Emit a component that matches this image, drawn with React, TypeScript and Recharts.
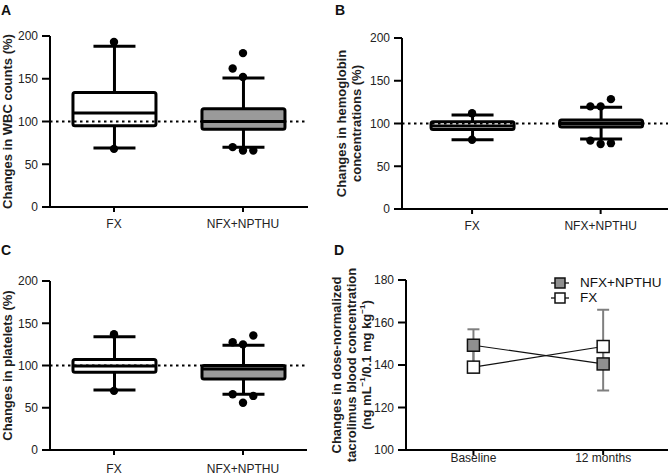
import React from "react";
import {
  ComposedChart,
  Bar,
  Cell,
  Scatter,
  Line,
  ErrorBar,
  XAxis,
  YAxis,
  ReferenceLine,
} from "recharts";

const FONT = "'Liberation Sans', Arial, sans-serif";

// shared by the three box plots
const groups = ["FX", "NFX+NPTHU"];
const groupPos = [1, 2];
const pctTicks = [0, 50, 100, 150, 200];

// A: WBC counts
const wbcMin = [69, 70];
const wbcQ1 = [95, 91];
const wbcMedian = [110, 100];
const wbcQ3 = [134, 115];
const wbcMax = [188, 151];
const wbcOutPos = [1, 1, 1.92, 2, 2, 1.92, 2, 2.08];
const wbcOutVal = [193, 68, 162, 180, 152, 70, 66, 66];

// B: hemoglobin
const hbMin = [81, 82];
const hbQ1 = [93, 96];
const hbMedian = [97, 100];
const hbQ3 = [102, 104];
const hbMax = [110, 119];
const hbOutPos = [1, 1, 1.92, 2, 2.08, 1.92, 2, 2.08];
const hbOutVal = [112, 81, 120, 120, 128.5, 80, 76, 77];

// C: platelets
const pltMin = [71, 66];
const pltQ1 = [92, 84];
const pltMedian = [99.5, 96];
const pltQ3 = [107, 100];
const pltMax = [134, 124];
const pltOutPos = [1, 1, 1.92, 2, 2.08, 1.92, 2, 2.08];
const pltOutVal = [137, 70, 127.5, 125, 135.5, 66, 56, 64];

// D: tacrolimus concentration, mean with error
const timePoints = ["Baseline", "12 months"];
const timePos = [1, 2];
const tacTicks = [100, 120, 140, 160, 180];
const nfxMean = [149.3, 140.5];
const nfxErrLow = [10, 12.5];
const nfxErrHigh = [7.5, 8];
const fxMean = [139, 148.7];
const fxErrLow = [2.6, 8];
const fxErrHigh = [10, 17.3];

const boxFills = ["#ffffff", "#9a9a9a"];

const makeBoxes = (
  min: number[],
  q1: number[],
  median: number[],
  q3: number[],
  max: number[],
) =>
  groups.map((g, i) => ({
    pos: groupPos[i],
    name: g,
    range: [min[i], max[i]],
    min: min[i],
    q1: q1[i],
    median: median[i],
    q3: q3[i],
    max: max[i],
  }));

const makeOutliers = (pos: number[], val: number[]) =>
  pos.map((p, i) => ({ pos: p, value: val[i] }));

const tacData = timePoints.map((t, i) => ({
  pos: timePos[i],
  name: t,
  nfx: nfxMean[i],
  fx: fxMean[i],
  nfxErr: [nfxErrLow[i], nfxErrHigh[i]],
  fxErr: [fxErrLow[i], fxErrHigh[i]],
}));

const BOX_HALF = 41.5;
const CAP_HALF = 21;

// whisker + box + median drawn from the bar's [min, max] rectangle
const BoxShape = (props: any) => {
  const { x, y, width, height, payload, fill } = props;
  const top = Math.min(y, y + height);
  const h = Math.abs(height);
  const span = payload.max - payload.min;
  const py = (v: number) => top + (h * (payload.max - v)) / span;
  const cx = x + width / 2;
  return (
    <g>
      <line x1={cx} x2={cx} y1={py(payload.max)} y2={py(payload.min)} stroke="#000" strokeWidth={3} />
      <line x1={cx - CAP_HALF} x2={cx + CAP_HALF} y1={py(payload.max)} y2={py(payload.max)} stroke="#000" strokeWidth={3} />
      <line x1={cx - CAP_HALF} x2={cx + CAP_HALF} y1={py(payload.min)} y2={py(payload.min)} stroke="#000" strokeWidth={3} />
      <rect
        x={cx - BOX_HALF}
        y={py(payload.q3)}
        width={BOX_HALF * 2}
        height={py(payload.q1) - py(payload.q3)}
        fill={fill}
        stroke="#000"
        strokeWidth={3}
        rx={2}
      />
      <line
        x1={cx - BOX_HALF}
        x2={cx + BOX_HALF}
        y1={py(payload.median)}
        y2={py(payload.median)}
        stroke="#000"
        strokeWidth={3}
      />
    </g>
  );
};

const OutlierDot = (props: any) => <circle cx={props.cx} cy={props.cy} r={4.2} fill="#000" />;

const SquareDot = (props: any) => {
  const { cx, cy, fill } = props;
  if (cx == null || cy == null) return null;
  return <rect x={cx - 6} y={cy - 6} width={12} height={12} fill={fill} stroke="#111" strokeWidth={1.5} />;
};

const AxisTitle = (props: any) => {
  const { viewBox, lines, xs } = props;
  const cy = viewBox.y + viewBox.height / 2;
  return (
    <g>
      {lines.map((l: any, i: number) => (
        <text
          key={i}
          x={viewBox.x + xs[i]}
          y={cy}
          transform={`rotate(-90, ${viewBox.x + xs[i]}, ${cy})`}
          textAnchor="middle"
          dominantBaseline="central"
          fontSize={13}
          fontWeight="bold"
          fontFamily={FONT}
          fill="#1e1e1e"
        >
          {l}
        </text>
      ))}
    </g>
  );
};

const axisStyle = { stroke: "#000", strokeWidth: 2 };
const tickStyle = { fill: "#222", fontSize: 12, fontFamily: FONT };

interface BoxPanelProps {
  left: number;
  top: number;
  width: number;
  height: number;
  marginTop: number;
  marginRight: number;
  yAxisWidth: number;
  xAxisHeight: number;
  xDomain: [number, number];
  xTickMargin: number;
  boxes: any[];
  outliers: any[];
  title: any[];
  titleXs: number[];
}

const BoxPanel: React.FC<BoxPanelProps> = (p) => (
  <div style={{ position: "absolute", left: p.left, top: p.top }}>
    <ComposedChart
      width={p.width}
      height={p.height}
      data={p.boxes}
      margin={{ top: p.marginTop, right: p.marginRight, bottom: 0, left: 0 }}
    >
      <XAxis
        dataKey="pos"
        type="number"
        domain={p.xDomain}
        allowDataOverflow
        ticks={groupPos}
        tickFormatter={(v: number) => groups[groupPos.indexOf(v)] ?? ""}
        height={p.xAxisHeight}
        axisLine={axisStyle}
        tickLine={axisStyle}
        tickSize={5}
        tickMargin={p.xTickMargin}
        tick={tickStyle}
      />
      <YAxis
        type="number"
        domain={[0, 200]}
        ticks={pctTicks}
        width={p.yAxisWidth}
        axisLine={axisStyle}
        tickLine={axisStyle}
        tickSize={8}
        tickMargin={4}
        tick={tickStyle}
        label={<AxisTitle lines={p.title} xs={p.titleXs} />}
      />
      <ReferenceLine y={100} stroke="#000" strokeWidth={2} strokeDasharray="2.5 3.5" />
      <Bar dataKey="range" barSize={90} shape={<BoxShape />} isAnimationActive={false}>
        {p.boxes.map((b, i) => (
          <Cell key={b.name} fill={boxFills[i]} />
        ))}
      </Bar>
      <Scatter data={p.outliers} dataKey="value" shape={<OutlierDot />} isAnimationActive={false} />
    </ComposedChart>
  </div>
);

const letterStyle: React.CSSProperties = {
  position: "absolute",
  fontFamily: FONT,
  fontWeight: "bold",
  fontSize: 14,
  lineHeight: "14px",
  color: "#111",
};

const LegendRow = ({ fill, label, top }: { fill: string; label: string; top: number }) => (
  <div style={{ position: "absolute", left: 550, top, height: 15, display: "flex", alignItems: "center" }}>
    <svg width={20} height={14} style={{ display: "block" }}>
      <line x1={1} x2={19} y1={7} y2={7} stroke="#333" strokeWidth={1.5} />
      <rect x={5} y={2} width={10} height={10} fill={fill} stroke="#111" strokeWidth={1.5} />
    </svg>
    <span style={{ marginLeft: 10, fontFamily: FONT, fontSize: 13.5, color: "#111", lineHeight: "15px" }}>
      {label}
    </span>
  </div>
);

export default function App() {
  return (
    <div style={{ position: "absolute", left: 0, top: 0, width: 668, height: 476, background: "#fff", overflow: "hidden" }}>
      <BoxPanel
        left={0}
        top={0}
        width={334}
        height={238}
        marginTop={36}
        marginRight={26}
        yAxisWidth={50}
        xAxisHeight={31}
        xDomain={[0.504, 2.504]}
        xTickMargin={7}
        boxes={makeBoxes(wbcMin, wbcQ1, wbcMedian, wbcQ3, wbcMax)}
        outliers={makeOutliers(wbcOutPos, wbcOutVal)}
        title={["Changes in WBC counts (%)"]}
        titleXs={[7]}
      />
      <BoxPanel
        left={334}
        top={0}
        width={334}
        height={238}
        marginTop={38}
        marginRight={0}
        yAxisWidth={68}
        xAxisHeight={29}
        xDomain={[0.455, 2.524]}
        xTickMargin={7}
        boxes={makeBoxes(hbMin, hbQ1, hbMedian, hbQ3, hbMax)}
        outliers={makeOutliers(hbOutPos, hbOutVal)}
        title={["Changes in hemoglobin", "concentrations (%)"]}
        titleXs={[7, 22]}
      />
      <BoxPanel
        left={0}
        top={238}
        width={334}
        height={238}
        marginTop={43}
        marginRight={27}
        yAxisWidth={50}
        xAxisHeight={26}
        xDomain={[0.504, 2.496]}
        xTickMargin={9}
        boxes={makeBoxes(pltMin, pltQ1, pltMedian, pltQ3, pltMax)}
        outliers={makeOutliers(pltOutPos, pltOutVal)}
        title={["Changes in platelets (%)"]}
        titleXs={[7]}
      />

      <div style={{ position: "absolute", left: 320, top: 238 }}>
        <ComposedChart width={348} height={238} data={tacData} margin={{ top: 42, right: 0, bottom: 0, left: 0 }}>
          <XAxis
            dataKey="pos"
            type="number"
            domain={[0.48, 2.5]}
            allowDataOverflow
            ticks={timePos}
            tickFormatter={(v: number) => timePoints[timePos.indexOf(v)] ?? ""}
            height={26}
            axisLine={axisStyle}
            tickLine={axisStyle}
            tickSize={5}
            tickMargin={-2}
            tick={tickStyle}
          />
          <YAxis
            type="number"
            domain={[100, 180]}
            ticks={tacTicks}
            width={86}
            axisLine={axisStyle}
            tickLine={axisStyle}
            tickSize={8}
            tickMargin={4}
            tick={tickStyle}
            label={
              <AxisTitle
                lines={[
                  "Changes in dose-normalized",
                  "tacrolimus blood concentration",
                  <>
                    (ng mL<tspan dy={-4} fontSize={8}>−1</tspan>
                    <tspan dy={4}>/0.1 mg kg</tspan>
                    <tspan dy={-4} fontSize={8}>−1</tspan>
                    <tspan dy={4}>)</tspan>
                  </>,
                ]}
                xs={[16.5, 31, 46]}
              />
            }
          />
          <Line dataKey="fx" stroke="#111" strokeWidth={1.2} dot={false} activeDot={false} isAnimationActive={false}>
            <ErrorBar dataKey="fxErr" direction="y" width={6} stroke="#7f7f7f" strokeWidth={2} />
          </Line>
          <Line dataKey="nfx" stroke="#111" strokeWidth={1.2} dot={false} activeDot={false} isAnimationActive={false}>
            <ErrorBar dataKey="nfxErr" direction="y" width={6} stroke="#7f7f7f" strokeWidth={2} />
          </Line>
          <Line dataKey="fx" stroke="none" dot={<SquareDot fill="#ffffff" />} activeDot={false} isAnimationActive={false} />
          <Line dataKey="nfx" stroke="none" dot={<SquareDot fill="#8f8f8f" />} activeDot={false} isAnimationActive={false} />
        </ComposedChart>
      </div>

      <LegendRow fill="#8f8f8f" label="NFX+NPTHU" top={275} />
      <LegendRow fill="#ffffff" label="FX" top={290} />

      <div style={{ ...letterStyle, left: 1, top: 3 }}>A</div>
      <div style={{ ...letterStyle, left: 335, top: 3 }}>B</div>
      <div style={{ ...letterStyle, left: 1, top: 243 }}>C</div>
      <div style={{ ...letterStyle, left: 334, top: 243 }}>D</div>
    </div>
  );
}
